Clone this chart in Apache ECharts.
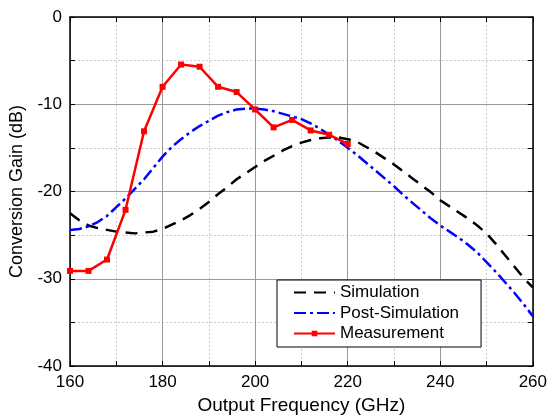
<!DOCTYPE html>
<html>
<head>
<meta charset="utf-8">
<script src="https://cdn.jsdelivr.net/npm/echarts@6/dist/echarts.min.js"></script>
<style>
html,body{margin:0;padding:0;background:#fff;}
#c{width:550px;height:420px;}
</style>
</head>
<body>
<div id="c"></div>
<script>
var simFreq = [160,162,164,166,168,170,172,174,176,178,180,182,184,186,188,190,192,194,196,198,200,202,204,206,208,210,212,214,216,218,220,222,224,226,228,230,232,234,236,238,240,242,244,246,248,250,252,254,256,258,260];
var simGain = [-22.5,-23.3,-23.9,-24.2,-24.4,-24.6,-24.7,-24.8,-24.7,-24.6,-24.3,-23.8,-23.3,-22.7,-22.0,-21.2,-20.3,-19.5,-18.6,-17.9,-17.2,-16.5,-15.9,-15.3,-14.8,-14.4,-14.1,-13.9,-13.8,-13.8,-14.0,-14.3,-14.9,-15.5,-16.2,-16.9,-17.7,-18.5,-19.3,-20.1,-21.0,-21.7,-22.4,-23.1,-23.9,-24.8,-26.0,-27.3,-28.6,-29.9,-31.0];
var postGain = [-24.4,-24.3,-24.0,-23.5,-22.8,-21.8,-20.8,-19.7,-18.6,-17.3,-16.0,-14.9,-14.0,-13.2,-12.5,-11.9,-11.3,-10.9,-10.6,-10.5,-10.5,-10.6,-10.8,-11.1,-11.4,-11.7,-12.2,-12.8,-13.5,-14.2,-15.0,-15.8,-16.7,-17.6,-18.5,-19.4,-20.4,-21.3,-22.2,-23.1,-23.9,-24.6,-25.3,-26.1,-27.0,-28.1,-29.2,-30.4,-31.6,-32.9,-34.3];
var measFreq = [160,164,168,172,176,180,184,188,192,196,200,204,208,212,216,220];
var measGain = [-29.1,-29.1,-27.8,-22.1,-13.1,-8.0,-5.45,-5.7,-8.0,-8.6,-10.6,-12.65,-11.8,-13.0,-13.5,-14.55];
var seriesNames = ['Simulation','Post-Simulation','Measurement'];
var xTitle = 'Output Frequency (GHz)';
var yTitle = 'Conversion Gain (dB)';

function pairs(xs, ys){ return xs.map(function(x,i){ return [x, ys[i]]; }); }

var FONT = 'Liberation Sans, Arial, sans-serif';
var chart = echarts.init(document.getElementById('c'), null, {renderer:'canvas'});

function xAx(pos, show){
  return {
    type:'value', position:pos, min:160, max:260, interval:20,
    name: show ? xTitle : '', nameLocation:'middle', nameGap:30,
    nameTextStyle:{fontFamily:FONT, fontSize:19, color:'#000'},
    axisLine:{show:true, onZero:false, lineStyle:{color:'#000', width:1.5}},
    axisTick:{show:true, inside:true, length:5, lineStyle:{color:'#000', width:1}},
    minorTick:{show:true, splitNumber:2, length:5, lineStyle:{color:'#000', width:1}},
    axisLabel:{show:show, fontFamily:FONT, fontSize:17, color:'#000', margin:8},
    splitLine:{show:show, lineStyle:{color:'#999', width:1}},
    minorSplitLine:{show:show, lineStyle:{color:'#ccc', width:1, type:[2,2]}}
  };
}
function yAx(pos, show){
  return {
    type:'value', position:pos, min:-40, max:0, interval:10,
    name: show ? yTitle : '', nameLocation:'middle', nameGap:44,
    nameTextStyle:{fontFamily:FONT, fontSize:18, color:'#000'},
    axisLine:{show:true, onZero:false, lineStyle:{color:'#000', width:1.5}},
    axisTick:{show:true, inside:true, length:5, lineStyle:{color:'#000', width:1}},
    minorTick:{show:true, splitNumber:2, length:5, lineStyle:{color:'#000', width:1}},
    axisLabel:{show:show, fontFamily:FONT, fontSize:17, color:'#000', margin:8},
    splitLine:{show:show, lineStyle:{color:'#999', width:1}},
    minorSplitLine:{show:show, lineStyle:{color:'#ccc', width:1, type:[2,2]}}
  };
}

chart.setOption({
  animation:false,
  backgroundColor:'#fff',
  grid:{left:70, right:15, top:17, bottom:51, containLabel:false},
  xAxis:[xAx('bottom', true), xAx('top', false)],
  yAxis:[yAx('left', true), yAx('right', false)],
  legend:{
    orient:'vertical', left:277, top:280,
    backgroundColor:'#fff', borderColor:'#000', borderWidth:1, borderRadius:0,
    padding:[4,22,5,16], itemGap:3.5, itemWidth:41, itemHeight:7,
    textStyle:{fontFamily:FONT, fontSize:17, color:'#000', lineHeight:17},
    data: [
      {name:seriesNames[0], itemStyle:{opacity:0, color:'rgba(0,0,0,0)', borderWidth:0}},
      {name:seriesNames[1], itemStyle:{opacity:0, color:'rgba(0,0,0,0)', borderWidth:0}},
      {name:seriesNames[2]}
    ]
  },
  series:[
    {name:seriesNames[0], type:'line', data:pairs(simFreq, simGain), showSymbol:false, symbol:'none',
     lineStyle:{color:'#000', width:2.5, type:[12,8]}, itemStyle:{color:'#000'}, z:2},
    {name:seriesNames[1], type:'line', data:pairs(simFreq, postGain), showSymbol:false, symbol:'none',
     lineStyle:{color:'#0000ff', width:2.5, type:[12,4,3,4]}, itemStyle:{color:'#0000ff'}, z:3},
    {name:seriesNames[2], type:'line', data:pairs(measFreq, measGain), symbol:'rect', symbolSize:6,
     lineStyle:{color:'#ff0000', width:2.5}, itemStyle:{color:'#ff0000'}, z:4}
  ]
});
</script>
</body>
</html>
